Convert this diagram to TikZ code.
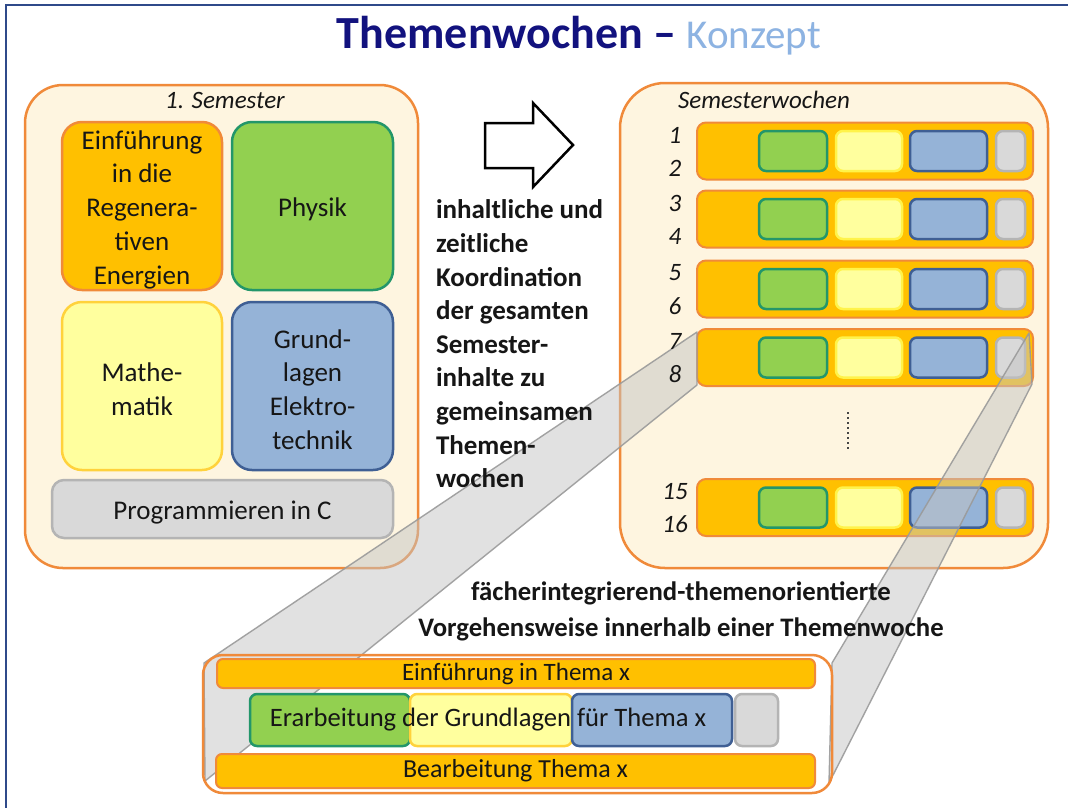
\documentclass[tikz,border=0pt]{standalone}
\usepackage{fontspec}
\setmainfont{Carlito}
\definecolor{navy}{HTML}{12127E}
\definecolor{konzept}{HTML}{8DB3E2}
\definecolor{frameblue}{HTML}{2F4A8A}
\definecolor{orbord}{HTML}{F08A3A}
\definecolor{orfill}{HTML}{FFC000}
\definecolor{cream}{HTML}{FEF5E0}
\definecolor{grfill}{HTML}{92D050}
\definecolor{grbord}{HTML}{23966A}
\definecolor{yefill}{HTML}{FFFF9E}
\definecolor{yebord}{HTML}{FFD23C}
\definecolor{yeglow}{HTML}{FFF34A}
\definecolor{blfill}{HTML}{95B3D7}
\definecolor{blbord}{HTML}{3F5F94}
\definecolor{gyfill}{HTML}{D9D9D9}
\definecolor{gybord}{HTML}{B4B4B4}
\definecolor{txt}{HTML}{161616}
\definecolor{bandline}{HTML}{9A9A9A}
\definecolor{bandfill}{HTML}{C4C4C4}
\begin{document}
\begin{tikzpicture}[x=1pt,y=-1pt,
  every node/.style={inner sep=0pt,outer sep=0pt,text=txt},
  sz/.style 2 args={minimum width=#1pt,minimum height=#2pt},
  outerbox/.style={draw=orbord,fill=cream,line width=2.5pt},
  subj/.style={line width=2.5pt,rounded corners=20pt},
  subjtext/.style={align=center,yshift=-3.5pt,font=\fontsize{27}{33.75}\selectfont},
  bar/.style={draw=orbord,fill=orfill,line width=2pt,rounded corners=9pt},
  cell/.style={line width=2.5pt,rounded corners=7pt},
  num/.style={font=\itshape\fontsize{25}{30}\selectfont},
  lbl/.style={font=\itshape\fontsize{25}{30}\selectfont},
  band/.style={fill=bandfill,fill opacity=0.5,draw=bandline,draw opacity=0.9,line width=1.4pt,line join=round},
  detbar/.style={draw=orbord,fill=orfill,line width=2pt,rounded corners=6pt}]
\useasboundingbox (0,0) rectangle (1068,807);
\fill[white] (0,0) rectangle (1068,807);
% frame
\draw[frameblue,line width=1.5pt] (6,820) -- (6,5) -- (1080,5);
% title
\node[anchor=base,font=\fontsize{46}{50}\selectfont] (title) at (579,48) {{\color{navy}\bfseries Themenwochen --} {\color{konzept}\fontsize{41}{50}\selectfont Konzept}};
% left box
\node[outerbox,rounded corners=38pt,sz={393}{483}] (sem) at (221.5,326.5) {};
\node[lbl] (semlbl) at (225,100) {1. Semester};
\node[subj,sz={160}{168},fill=orfill,draw=orbord] (ein) at (142,206) {};
\node[subj,sz={161}{168},fill=grfill,draw=grbord] (phy) at (312.5,206) {};
\node[subj,sz={160}{168},fill=yefill,draw=yebord] (mat) at (142,386) {};
\node[subj,sz={161}{168},fill=blfill,draw=blbord] (get) at (312.5,386) {};
\node[subj,sz={341}{58},fill=gyfill,draw=gybord,rounded corners=12pt] (prog) at (222.5,509) {};
\node[subjtext] (eint) at (ein.center) {Einführung\\in die\\Regenera-\\tiven\\Energien};
\node[subjtext] (phyt) at (phy.center) {Physik};
\node[subjtext] (matt) at (mat.center) {Mathe-\\matik};
\node[subjtext] (gett) at (get.center) {Grund-\\lagen\\Elektro-\\technik};
\node[subjtext] (progt) at (prog.center) {Programmieren in C};
% block arrow
\draw[black,fill=white,line width=2.5pt,line join=miter] (485,123) -- (533,123) -- (533,103) -- (573,145) -- (533,187) -- (533,168) -- (485,168) -- cycle;
% right box
\node[outerbox,rounded corners=45pt,sz={428}{485}] (weeks) at (834,325.5) {};
\node[lbl,anchor=west] (weekslbl) at (678,100) {Semesterwochen};
\foreach \i/\c in {1/151,2/219,3/289,4/357.5,5/507.5}{
  \node[bar,sz={336}{57}] (r\i) at (865,\c) {};
  \node[cell,fill=grfill,draw=grbord,sz={68}{40}] (g\i) at (793,\c) {};
  \node[cell,fill=yefill,draw=yeglow,sz={66}{40}] (y\i) at (869,\c) {};
  \node[cell,fill=blfill,draw=blbord,sz={77}{40}] (b\i) at (948.5,\c) {};
  \node[cell,fill=gyfill,draw=gybord,sz={29}{40}] (k\i) at (1010.5,\c) {};
}
\draw[txt!80,line width=2pt,dash pattern=on 2pt off 3pt] (848,412) -- (848,451);
% projection bands
\coordinate (ltr) at (697,332);
\coordinate (lbr) at (697,385);
\coordinate (ltd) at (204,663);
\coordinate (lbd) at (205,781);
\coordinate (rtr) at (1029,333);
\coordinate (rbr) at (1032,384);
\coordinate (rtd) at (832,663);
\coordinate (rbd) at (829,783);
\path[band] (ltr) -- (lbr) -- (lbd) -- (ltd) -- cycle;
\path[band] (rtr) -- (rbr) -- (rbd) -- (rtd) -- cycle;
% week numbers
\foreach \i/\c/\a/\b in {1/151/1/2,2/219/3/4,3/289/5/6,4/357.5/7/8,5/507.5/15/16}{
  \node[num] (na\i) at (675,\c-16) {\a};
  \node[num] (nb\i) at (675,\c+17) {\b};
}
% detail box
\node[draw=orbord,line width=2.5pt,rounded corners=20pt,sz={629}{138}] (det) at (517.5,724) {};
\node[detbar,sz={598}{29},font=\fontsize{25}{30}\selectfont] (intro) at (516,673.5) {Einführung in Thema x};
\node[cell,fill=grfill,draw=grbord,sz={160}{52}] (dg) at (330,720) {};
\node[cell,fill=yefill,draw=yebord,sz={162}{52}] (dy) at (491,720) {};
\node[cell,fill=blfill,draw=blbord,sz={160}{52}] (db) at (652,720) {};
\node[cell,fill=gyfill,draw=gybord,sz={43}{52}] (dk) at (756.5,720) {};
\node[font=\fontsize{26.6}{30}\selectfont] (erar) at (488,720) {Erarbeitung der Grundlagen für Thema x};
\node[detbar,sz={599}{34},font=\fontsize{26}{30}\selectfont] (bear) at (515.5,771) {Bearbeitung Thema x};
% texts
\node[anchor=north west,align=left,font=\bfseries\fontsize{27}{33.6}\selectfont] (coord) at (436,200) {inhaltliche und\\zeitliche\\Koordination\\der gesamten\\Semester-\\inhalte zu\\gemeinsamen\\Themen-\\wochen};
\node[align=center,font=\bfseries\fontsize{26.7}{36}\selectfont] (cap) at (681,611) {fächerintegrierend-themenorientierte\\Vorgehensweise innerhalb einer Themenwoche};
\end{tikzpicture}
\end{document}
